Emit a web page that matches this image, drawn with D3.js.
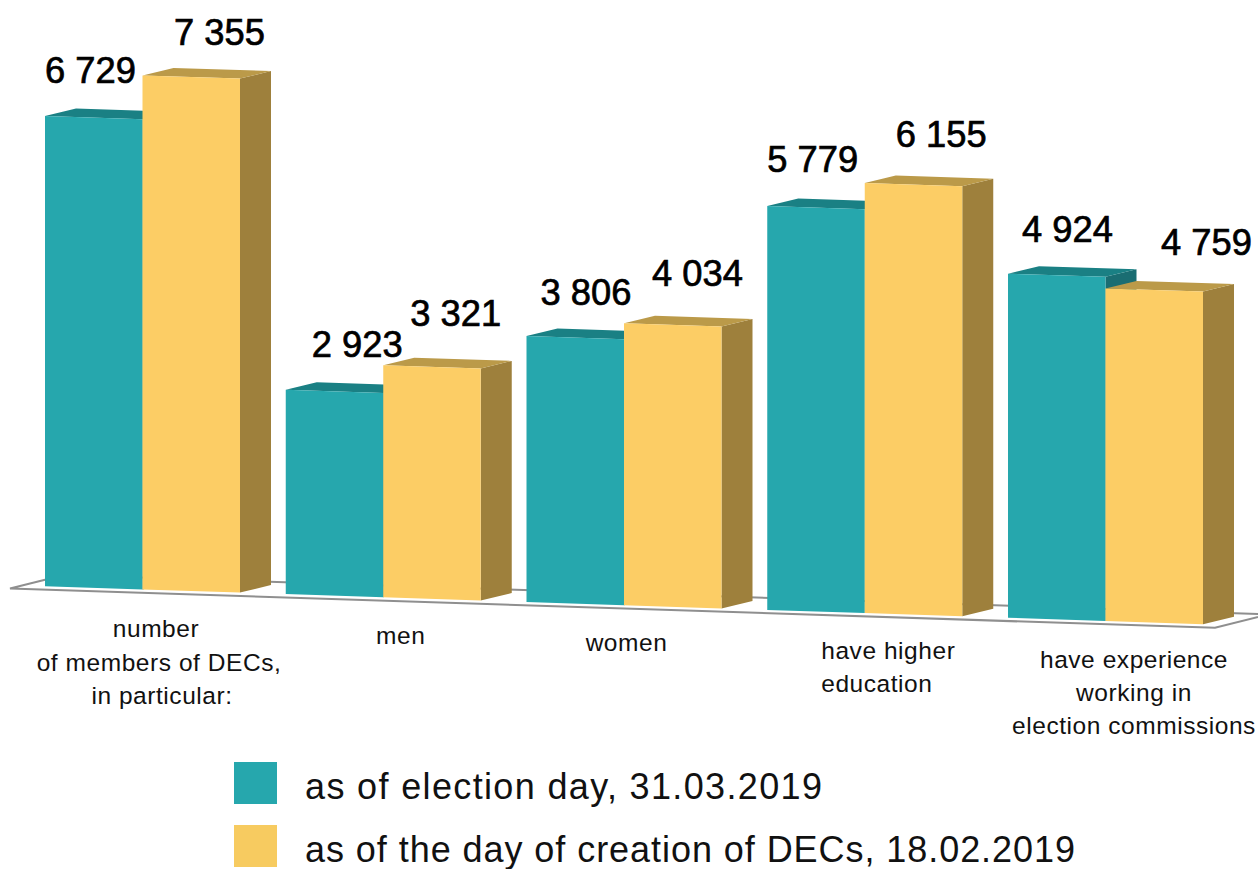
<!DOCTYPE html>
<html>
<head>
<meta charset="utf-8">
<script src="https://cdn.jsdelivr.net/npm/d3@7/dist/d3.min.js"></script>
<style>
html,body{margin:0;padding:0;background:#fff;overflow:hidden}
svg{display:block}
</style>
</head>
<body>
<svg id="chart" width="1258" height="869"></svg>
<script>
// Data
const categories = ["number of members of DECs, in particular:", "men", "women", "have higher education", "have experience working in election commissions"];
const electionDay = [6729, 2923, 3806, 5779, 4924];
const creationDay = [7355, 3321, 4034, 6155, 4759];
const seriesNames = ["as of election day, 31.03.2019", "as of the day of creation of DECs, 18.02.2019"];
const categoryLines = [
  ["number", "of members of DECs,", "in particular:"],
  ["men"],
  ["women"],
  ["have higher", "education"],
  ["have experience", "working in", "election commissions"]
];
const valueLabel = v => d3.format(",")(v).replace(",", " ");

// Layout
const W = 1258, H = 869;
const barW = 97.5, depth = {x: 31, y: -7.5}, slope = 0.0328;
const x0 = d3.scaleBand().domain(categories).range([45, 45 + 240.75 * 5]).paddingInner(0).paddingOuter(0);
const h = d3.scaleLinear().domain([0, 7355]).range([0, 514]);
const baseY = x => 586.2 + (x - 45) * slope;
const colors = [
  {front: "#26a7ad", top: "#1a8084", side: "#1a6d72", legend: "#26a7ad"},
  {front: "#fccd65", top: "#bb9a49", side: "#9e803c", legend: "#f7cb60"}
];
const labelFont = "'Liberation Sans', Arial, sans-serif";
const textFont = "'Liberation Sans', Arial, sans-serif";
const labelDx = [[0, 26, 14, 0, 14], [31.5, 27, 28, 31, 55.5]];
const labelDy = [[-33, -33, -31, -34, -32], [-30.5, -39, -37.5, -36, -33]];
const legendTextWidths = [517, 770];
const catLayout = [
  {anchor: "middle", dx: 111, dy: 48, step: 33.5, skew: 3},
  {anchor: "middle", dx: 115, dy: 47},
  {anchor: "middle", dx: 100, dy: 46},
  {anchor: "start",  dx: 54,  dy: 46, step: 33},
  {anchor: "middle", dx: 126, dy: 47, step: 33}
];

const svg = d3.select("#chart");
svg.append("rect").attr("width", W).attr("height", H).attr("fill", "#fff");

// Floor
const floorLine = d3.line();
const frontL = [10, 588.5], frontR = [1215, 627.8], backL = [64, 575], backR = [1269, 614.3];
svg.append("path")
  .attr("d", floorLine([frontL, frontR, backR, backL]) + "Z")
  .attr("fill", "#fff")
  .attr("stroke", "#8f8f8f")
  .attr("stroke-width", 2);

// Bars
const poly = pts => floorLine(pts) + "Z";
[electionDay, creationDay].forEach((vals, s) => {
  const g = svg.append("g").attr("class", "series-" + s);
  const c = colors[s];
  const bars = g.selectAll("g").data(vals).join("g");
  bars.each(function (v, i) {
    const sel = d3.select(this);
    const xl = x0(categories[i]) + s * barW, xr = xl + barW;
    const bl = baseY(xl), br = baseY(xr);
    const tl = bl - h(v), tr = br - h(v);
    const d = depth;
    sel.append("path").attr("fill", c.side)
      .attr("d", poly([[xr, tr], [xr + d.x, tr + d.y], [xr + d.x, br + d.y], [xr, br]]));
    sel.append("path").attr("fill", c.top)
      .attr("d", poly([[xl, tl], [xl + d.x, tl + d.y], [xr + d.x, tr + d.y], [xr, tr]]));
    sel.append("path").attr("fill", c.front)
      .attr("d", poly([[xl, tl], [xr, tr], [xr, br], [xl, bl]]));
  });
});

// Value labels
[electionDay, creationDay].forEach((vals, s) => {
  svg.append("g").selectAll("text").data(vals).join("text")
    .attr("x", (v, i) => x0(categories[i]) + s * barW + labelDx[s][i])
    .attr("y", (v, i) => baseY(x0(categories[i]) + s * barW) - h(v) + labelDy[s][i])
    .attr("font-family", labelFont)
    .attr("font-size", 36.3)
    .attr("fill", "#000")
    .attr("stroke", "#000")
    .attr("stroke-width", 0.7)
    .text(valueLabel);
});

// Category labels
categories.forEach((cat, i) => {
  const l = catLayout[i];
  const xl = x0(cat);
  const t = svg.append("text")
    .attr("font-family", textFont)
    .attr("font-size", 24.5)
    .attr("letter-spacing", 0.55)
    .attr("fill", "#111")
    .attr("text-anchor", l.anchor);
  categoryLines[i].forEach((line, j) => {
    t.append("tspan")
      .attr("x", xl + l.dx + j * (l.skew || 0))
      .attr("y", baseY(xl + barW) + l.dy + j * (l.step || 0))
      .text(line);
  });
});

// Legend
const legend = svg.append("g").selectAll("g").data(seriesNames).join("g")
  .attr("transform", (d, i) => `translate(234,${762 + i * 63})`);
legend.append("rect").attr("width", 43).attr("height", 42)
  .attr("fill", (d, i) => colors[i].legend);
legend.append("text")
  .attr("x", 71).attr("y", 36.5)
  .attr("font-family", textFont)
  .attr("font-size", 36)
  .attr("textLength", (d, i) => legendTextWidths[i])
  .attr("lengthAdjust", "spacing")
  .attr("fill", "#111")
  .text(d => d);
</script>
</body>
</html>
